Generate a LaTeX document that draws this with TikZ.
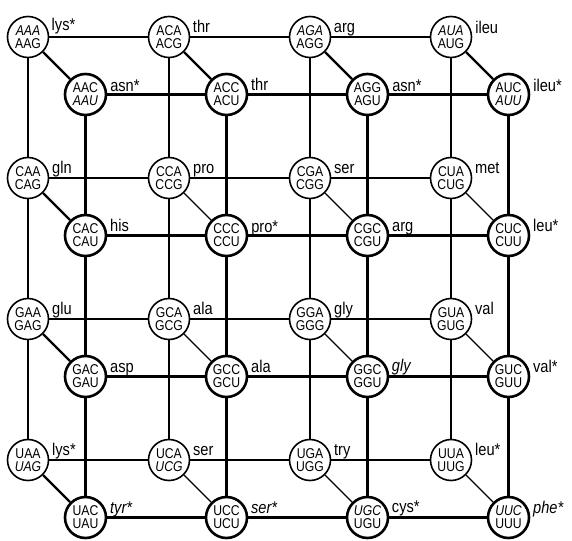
\documentclass[tikz,border=0pt]{standalone}
\usepackage{fontspec}
\setmainfont{Liberation Sans}[FakeStretch=0.86]
\newfontfamily\codonfont{Liberation Sans}[FakeStretch=0.86]
\usetikzlibrary{positioning, backgrounds}

\begin{document}
\begin{tikzpicture}[
  x=1pt, y=-1pt,
  node distance=141pt and 141pt, on grid,
  label distance=2pt,
  codon/.style={
    circle, fill=white, inner sep=0pt,
    minimum size=41pt, align=center,
    font=\codonfont\fontsize{14.2}{13}\selectfont
  },
  back/.style={codon, draw, line width=1.6pt},
  front/.style={codon, draw, line width=2.6pt},
  lbl/.style={anchor=base west, inner sep=1pt, font=\fontsize{17}{17}\selectfont},
  backline/.style={line width=1.3pt},
  frontline/.style={line width=2.4pt}
]
  \useasboundingbox (0,0) rectangle (572,540);

  % back layer of codons
  \node[back, label={[lbl]15:lys*}] (aaa) at (28,37) {\itshape AAA\\AAG};
  \node[back, label={[lbl]12:thr}, right=of aaa] (aca) {ACA\\ACG};
  \node[back, label={[lbl]12:arg}, right=of aca] (aga) {\itshape AGA\\AGG};
  \node[back, label={[lbl]8:ileu}, right=of aga] (aua) {\itshape AUA\\AUG};

  \node[back, label={[lbl]10:gln}, below=of aaa] (caa) {CAA\\CAG};
  \node[back, label={[lbl]10:pro}, right=of caa] (cca) {CCA\\CCG};
  \node[back, label={[lbl]10:ser}, right=of cca] (cga) {CGA\\CGG};
  \node[back, label={[lbl]10:met}, right=of cga] (cua) {CUA\\CUG};

  \node[back, label={[lbl]10:glu}, below=of caa] (gaa) {GAA\\GAG};
  \node[back, label={[lbl]10:ala}, right=of gaa] (gca) {GCA\\GCG};
  \node[back, label={[lbl]10:gly}, right=of gca] (gga) {GGA\\GGG};
  \node[back, label={[lbl]10:val}, right=of gga] (gua) {GUA\\GUG};

  \node[back, label={[lbl]10:lys*}, below=of gaa] (uaa) {UAA\\\itshape UAG};
  \node[back, label={[lbl]10:ser}, right=of uaa] (uca) {UCA\\\itshape UCG};
  \node[back, label={[lbl]10:try}, right=of uca] (uga) {UGA\\UGG};
  \node[back, label={[lbl]10:leu*}, right=of uga] (uua) {UUA\\UUG};

  % front layer of codons
  \node[front, label={[lbl]8:asn*}, below right=57.5pt and 57.5pt of aaa] (aac) {AAC\\\itshape AAU};
  \node[front, label={[lbl]10:thr}, right=of aac] (acc) {ACC\\ACU};
  \node[front, label={[lbl]8:asn*}, right=of acc] (agc) {AGG\\AGU};
  \node[front, label={[lbl]8:ileu*}, right=of agc] (auc) {AUC\\\itshape AUU};

  \node[front, label={[lbl]10:his}, below=of aac] (cac) {CAC\\CAU};
  \node[front, label={[lbl]8:pro*}, right=of cac] (ccc) {CCC\\CCU};
  \node[front, label={[lbl]10:arg}, right=of ccc] (cgc) {CGC\\CGU};
  \node[front, label={[lbl]10:leu*}, right=of cgc] (cuc) {CUC\\CUU};

  \node[front, label={[lbl]10:asp}, below=of cac] (gac) {GAC\\GAU};
  \node[front, label={[lbl]10:ala}, right=of gac] (gcc) {GCC\\GCU};
  \node[front, label={[lbl]12:\itshape gly}, right=of gcc] (ggc) {GGC\\GGU};
  \node[front, label={[lbl]10:val*}, right=of ggc] (guc) {GUC\\GUU};

  \node[front, label={[lbl]10:\itshape tyr*}, below=of gac] (uac) {UAC\\UAU};
  \node[front, label={[lbl]10:\itshape ser*}, right=of uac] (ucc) {UCC\\UCU};
  \node[front, label={[lbl]12:cys*}, right=of ucc] (ugc) {\itshape UGC\\UGU};
  \node[front, label={[lbl]10:\itshape phe*}, right=of ugc] (uuc) {\itshape UUC\\UUU};

  \begin{scope}[on background layer]
    % back grid
    \draw[backline] (aaa) -- (aca) -- (aga) -- (aua);
    \draw[backline] (caa) -- (cca) -- (cga) -- (cua);
    \draw[backline] (gaa) -- (gca) -- (gga) -- (gua);
    \draw[backline] (uaa) -- (uca) -- (uga) -- (uua);
    \draw[backline] (aaa) -- (caa) -- (gaa) -- (uaa);
    \draw[backline] (aca) -- (cca) -- (gca) -- (uca);
    \draw[backline] (aga) -- (cga) -- (gga) -- (uga);
    \draw[backline] (aua) -- (cua) -- (gua) -- (uua);

    % front grid
    \draw[frontline] (aac) -- (acc) -- (agc) -- (auc);
    \draw[frontline] (cac) -- (ccc) -- (cgc) -- (cuc);
    \draw[frontline] (gac) -- (gcc) -- (ggc) -- (guc);
    \draw[frontline] (uac) -- (ucc) -- (ugc) -- (uuc);
    \draw[frontline] (aac) -- (cac) -- (gac) -- (uac);
    \draw[frontline] (acc) -- (ccc) -- (gcc) -- (ucc);
    \draw[frontline] (agc) -- (cgc) -- (ggc) -- (ugc);
    \draw[frontline] (auc) -- (cuc) -- (guc) -- (uuc);

    % back to front
    \draw[frontline] (aaa) -- (aac);
    \draw[frontline] (aca) -- (acc);
    \draw[frontline] (aga) -- (agc);
    \draw[frontline] (aua) -- (auc);
    \draw[frontline] (caa) -- (cac);
    \draw[frontline] (gaa) -- (gac);
    \draw[frontline] (uaa) -- (uac);
    \draw[backline] (cca) -- (ccc);
    \draw[backline] (cga) -- (cgc);
    \draw[backline] (cua) -- (cuc);
    \draw[backline] (gca) -- (gcc);
    \draw[backline] (gga) -- (ggc);
    \draw[backline] (gua) -- (guc);
    \draw[backline] (uca) -- (ucc);
    \draw[backline] (uga) -- (ugc);
    \draw[backline] (uua) -- (uuc);
  \end{scope}
\end{tikzpicture}
\end{document}
